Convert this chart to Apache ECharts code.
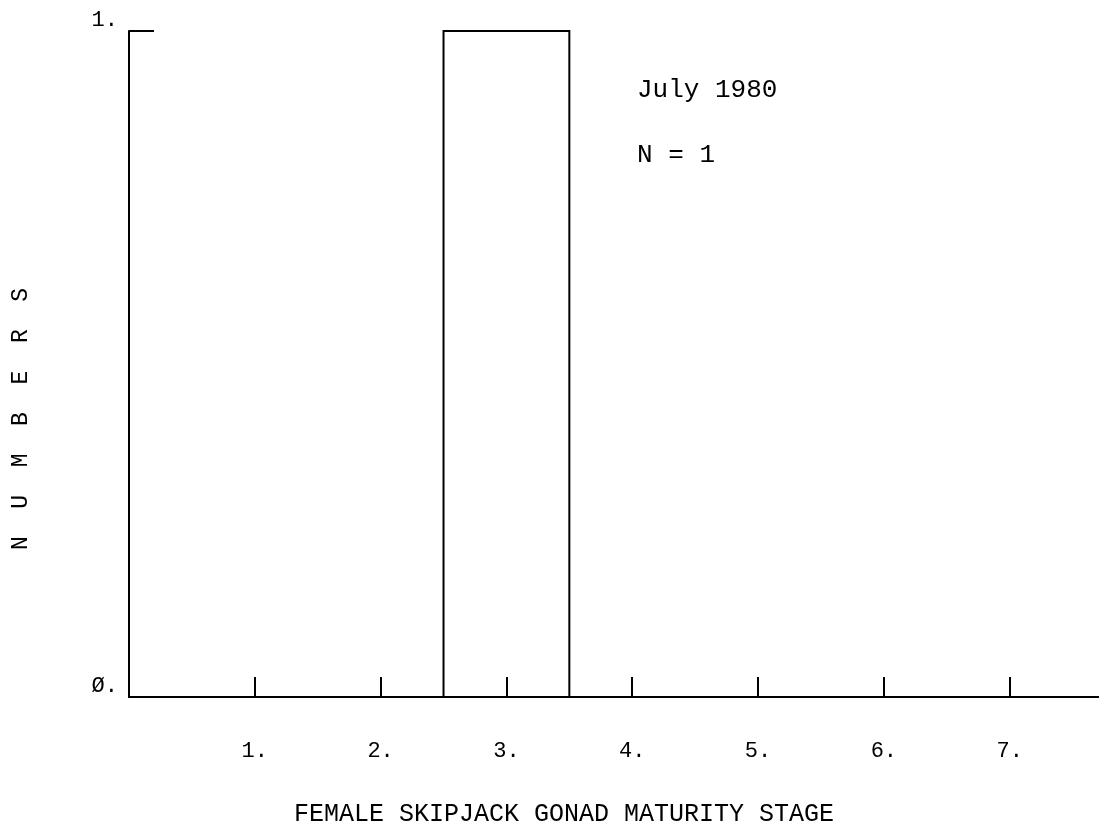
<!DOCTYPE html>
<html>
<head>
<meta charset="utf-8">
<script src="https://cdn.jsdelivr.net/npm/echarts@6/dist/echarts.min.js"></script>
<style>
html,body{margin:0;padding:0;background:#fff;}
#c{width:1099px;height:836px;}
</style>
</head>
<body>
<div id="c"></div>
<script>
var stages = [1, 2, 3, 4, 5, 6, 7];
var counts = [0, 0, 1, 0, 0, 0, 0];
var xTickLabels = ['1.', '2.', '3.', '4.', '5.', '6.', '7.'];
var yTickLabels = ['Ø.', '1.'];
var xTitle = 'FEMALE SKIPJACK GONAD MATURITY STAGE';
var yTitle = 'N  U  M  B  E  R  S';
var noteLines = ['July 1980', 'N = 1'];

var FONT = '"Liberation Mono", "DejaVu Sans Mono", monospace';
var chart = echarts.init(document.getElementById('c'), null, {renderer: 'canvas'});

var barData = stages.map(function (s, i) { return [s, counts[i]]; });

var option = {
  backgroundColor: '#fff',
  animation: false,
  grid: {left: 129, right: 0, top: 31, bottom: 139, containLabel: false},
  xAxis: {
    type: 'value', min: 0, max: 7.71, interval: 1,
    axisLine: {show: true, lineStyle: {color: '#000', width: 2}},
    axisTick: {show: true, inside: true, length: 20, lineStyle: {color: '#000', width: 2},
      customValues: stages},
    axisLabel: {show: true, customValues: stages, margin: 43, color: '#000',
      fontFamily: FONT, fontSize: 22,
      formatter: function (v) { return xTickLabels[Math.round(v) - 1] || ''; }},
    splitLine: {show: false}
  },
  yAxis: {
    type: 'value', min: 0, max: 1, interval: 1,
    axisLine: {show: true, lineStyle: {color: '#000', width: 2}},
    axisTick: {show: true, inside: true, length: 25, lineStyle: {color: '#000', width: 2}},
    axisLabel: {show: true, margin: 11, color: '#000', fontFamily: FONT, fontSize: 22,
      verticalAlign: 'bottom',
      formatter: function (v) { return yTickLabels[Math.round(v)]; }},
    splitLine: {show: false}
  },
  series: [{
    type: 'custom',
    data: barData,
    renderItem: function (params, api) {
      var s = api.value(0), v = api.value(1);
      if (!v) return null;
      var p0 = api.coord([s - 0.5, 0]);
      var p1 = api.coord([s - 0.5, v]);
      var p2 = api.coord([s + 0.5, v]);
      var p3 = api.coord([s + 0.5, 0]);
      return {
        type: 'polyline',
        shape: {points: [p0, p1, p2, p3]},
        style: {stroke: '#000', lineWidth: 2, fill: null}
      };
    }
  }],
  graphic: [
    {type: 'text', left: 637, top: 77, style: {text: noteLines[0], font: '26px ' + FONT, fill: '#000'}},
    {type: 'text', left: 637, top: 142, style: {text: noteLines[1], font: '26px ' + FONT, fill: '#000'}},
    {type: 'text', x: 564, y: 814, style: {text: xTitle, font: '25px ' + FONT, fill: '#000', align: 'center', verticalAlign: 'middle'}},
    {type: 'text', x: 21, y: 419, rotation: Math.PI / 2, style: {text: yTitle, font: '23px ' + FONT, fill: '#000', align: 'center', verticalAlign: 'middle'}}
  ]
};
chart.setOption(option);
</script>
</body>
</html>
